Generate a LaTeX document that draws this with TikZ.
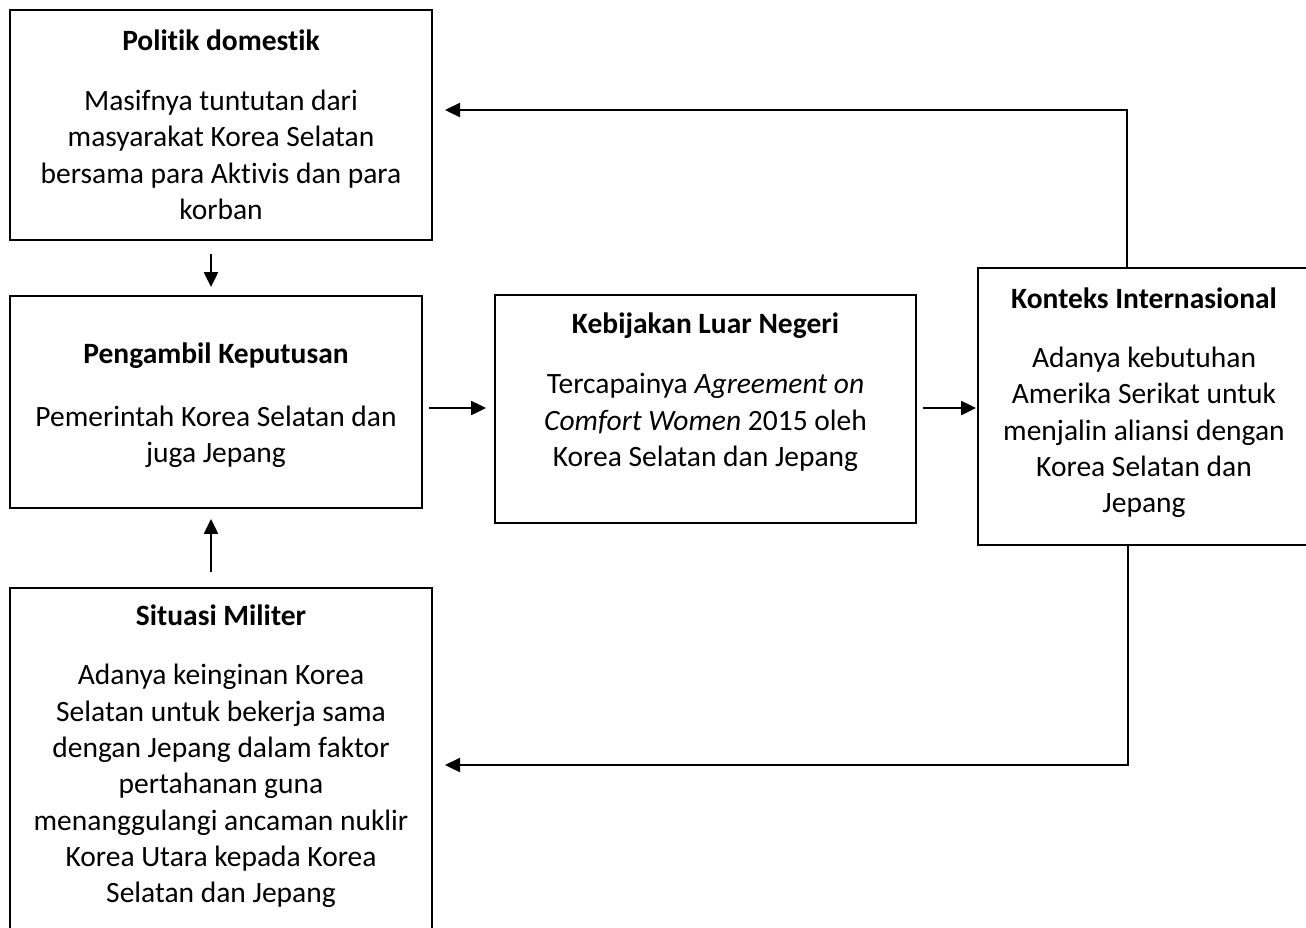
\documentclass[tikz,border=0pt]{standalone}
\usepackage{fontspec}
\setmainfont{Carlito}[Ligatures=NoCommon]
\usetikzlibrary{arrows.meta}
\begin{document}
\begin{tikzpicture}[x=1pt,y=-1pt,
  box/.style={draw, line width=1.9pt, inner sep=0pt},
  ttl/.style={font=\fontsize{29.5}{36.3}\selectfont\bfseries, inner sep=0pt},
  bdy/.style={font=\fontsize{29.5}{36.3}\selectfont, align=center, inner sep=0pt},
  arr/.style={line width=2.3pt, -{Triangle[length=15pt,width=14pt]}}]
\useasboundingbox (0,0) rectangle (1306,927);
% boxes
\node[box, minimum width=422pt, minimum height=230pt] (pol) at (221,125) {};
\node[box, minimum width=412pt, minimum height=212pt] (pen) at (216,402) {};
\node[box, minimum width=421pt, minimum height=228pt] (keb) at (705.5,409) {};
\node[box, minimum width=342pt, minimum height=277pt] (kon) at (1149,406.5) {};
\node[box, minimum width=422pt, minimum height=352pt] (mil) at (221,764) {};
% texts
\node[ttl] (polt) at (221,40) {Politik domestik};
\node[bdy] (polb) at (221,155) {Masifnya tuntutan dari\\masyarakat Korea Selatan\\bersama para Aktivis dan para\\korban};
\node[ttl] (pent) at (216,356) {Pengambil Keputusan};
\node[bdy] (penb) at (216,436.5) {Pemerintah Korea Selatan dan\\juga Jepang};
\node[ttl] (kebt) at (705.5,326) {Kebijakan Luar Negeri};
\node[bdy] (kebb) at (705.5,422.5) {Tercapainya \textit{Agreement on}\\\textit{Comfort Women} 2015 oleh\\Korea Selatan dan Jepang};
\node[ttl] (kont) at (1144,298) {Konteks Internasional};
\node[bdy] (konb) at (1144,432.5) {Adanya kebutuhan\\Amerika Serikat untuk\\menjalin aliansi dengan\\Korea Selatan dan\\Jepang};
\node[ttl] (milt) at (221,615) {Situasi Militer};
\node[bdy] (milb) at (221,786) {Adanya keinginan Korea\\Selatan untuk bekerja sama\\dengan Jepang dalam faktor\\pertahanan guna\\menanggulangi ancaman nuklir\\Korea Utara kepada Korea\\Selatan dan Jepang};
% connector points
\coordinate (c1) at (1127,110);
\coordinate (e1) at (445,110);
\coordinate (c6) at (1128,765);
\coordinate (e6) at (445,765);
% connectors
\draw[arr] (kon.north -| c1) -- (c1) -- (e1);
\draw[arr] ([yshift=-13pt]pol.south -| 211,0) -- ([yshift=8pt]pen.north -| 211,0);
\draw[arr] ([yshift=15pt]mil.north -| 211,0) -- ([yshift=-10pt]pen.south -| 211,0);
\draw[arr] ([xshift=6pt]pen.east |- 0,408) -- ([xshift=-8pt]keb.west |- 0,408);
\draw[arr] ([xshift=6pt]keb.east |- 0,408) -- ([xshift=-1pt]kon.west |- 0,408);
\draw[arr] (kon.south -| c6) -- (c6) -- (e6);
\end{tikzpicture}
\end{document}
